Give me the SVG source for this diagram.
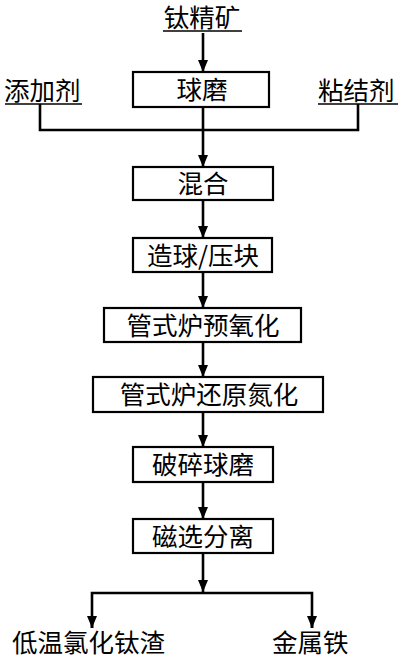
<svg xmlns="http://www.w3.org/2000/svg" width="407" height="663" viewBox="0 0 407 663">
<style>
.box{fill:#fff;stroke:#000;stroke-width:2.2}
.t{font-family:"Noto Sans CJK SC","Noto Sans",sans-serif;font-size:25.5px;fill:#000}
.m{text-anchor:middle}
.c{fill:none;stroke:#000;stroke-width:2.6}
.u{stroke:#000;stroke-width:1.5}
</style>
<defs>
<marker id="ah" viewBox="0 0 12 10" refX="12" refY="5" markerWidth="12" markerHeight="10" markerUnits="userSpaceOnUse" orient="auto">
<path d="M0,0 L12,5 L0,10 z" fill="#000"/>
</marker>
</defs>
<rect width="407" height="663" fill="#fff"/>
<g id="connectors">
<line class="c" x1="203" y1="33" x2="203" y2="72" marker-end="url(#ah)"/>
<line class="c" x1="203" y1="107" x2="203" y2="167" marker-end="url(#ah)"/>
<polyline class="c" points="40,104 40,130 358,130 358,104"/>
<line class="c" x1="203" y1="200" x2="203" y2="238" marker-end="url(#ah)"/>
<line class="c" x1="203" y1="272" x2="203" y2="308" marker-end="url(#ah)"/>
<line class="c" x1="203" y1="342" x2="203" y2="377" marker-end="url(#ah)"/>
<line class="c" x1="203" y1="412" x2="203" y2="447" marker-end="url(#ah)"/>
<line class="c" x1="203" y1="482" x2="203" y2="519" marker-end="url(#ah)"/>
<line class="c" x1="203" y1="553" x2="203" y2="592" marker-end="url(#ah)"/>
<polyline class="c" points="92,628 92,593 312,593 312,628"/>
<line class="c" x1="92" y1="620" x2="92" y2="628" marker-end="url(#ah)"/>
<line class="c" x1="312" y1="620" x2="312" y2="628" marker-end="url(#ah)"/>
</g>
<g id="n-titanium">
<text class="t m" x="202" y="27">钛精矿</text>
<line class="u" x1="163" y1="31" x2="242" y2="31"/>
</g>
<g id="n-additive">
<text class="t" x="4" y="100">添加剂</text>
<line class="u" x1="5" y1="104" x2="82" y2="104"/>
</g>
<g id="n-binder">
<text class="t" x="318" y="100">粘结剂</text>
<line class="u" x1="318" y1="104" x2="398" y2="104"/>
</g>
<g id="n-ballmill">
<rect class="box" x="133" y="72" width="136" height="35"/>
<text class="t m" x="202" y="99">球磨</text>
</g>
<g id="n-mix">
<rect class="box" x="133" y="167" width="140" height="33"/>
<text class="t m" x="203" y="193">混合</text>
</g>
<g id="n-pellet">
<rect class="box" x="133" y="238" width="139" height="34"/>
<text class="t m" x="203" y="265">造球/压块</text>
</g>
<g id="n-preox">
<rect class="box" x="104" y="308" width="197" height="34"/>
<text class="t m" x="203" y="335">管式炉预氧化</text>
</g>
<g id="n-reduce">
<rect class="box" x="93" y="377" width="230" height="35"/>
<text class="t m" x="209" y="404">管式炉还原氮化</text>
</g>
<g id="n-crush">
<rect class="box" x="133" y="447" width="140" height="35"/>
<text class="t m" x="203" y="474">破碎球磨</text>
</g>
<g id="n-magsep">
<rect class="box" x="133" y="519" width="140" height="34"/>
<text class="t m" x="203" y="546">磁选分离</text>
</g>
<g id="n-slag">
<text class="t" x="12" y="652">低温氯化钛渣</text>
</g>
<g id="n-iron">
<text class="t" x="272" y="652">金属铁</text>
</g>
</svg>
